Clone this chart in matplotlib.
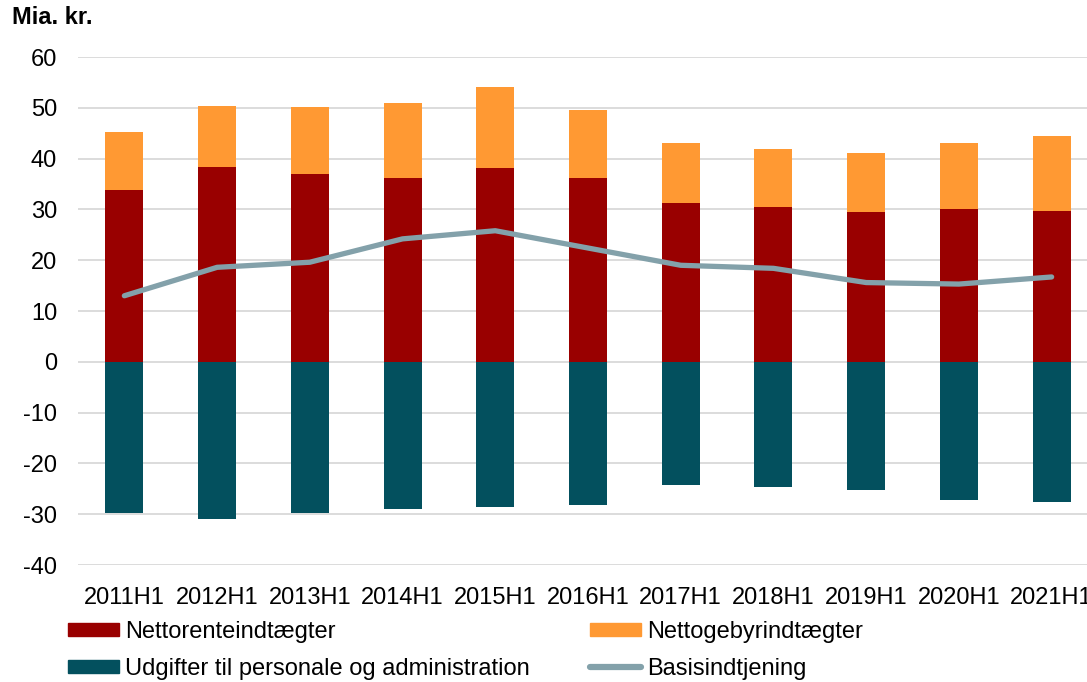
import matplotlib
matplotlib.use("Agg")
import matplotlib.pyplot as plt
from matplotlib.patches import Patch
from matplotlib.lines import Line2D
import numpy as np

plt.rcParams['font.family'] = ['Liberation Sans', 'DejaVu Sans']
plt.rcParams['axes.unicode_minus'] = False

periods = ["2011H1", "2012H1", "2013H1", "2014H1", "2015H1", "2016H1",
           "2017H1", "2018H1", "2019H1", "2020H1", "2021H1"]
netto_renter = [33.9, 38.3, 37.0, 36.1, 38.2, 36.1, 31.3, 30.4, 29.4, 30.1, 29.7]
netto_total = [45.2, 50.3, 50.2, 51.0, 54.1, 49.6, 43.0, 41.9, 41.1, 43.1, 44.4]
netto_gebyr = [t - r for t, r in zip(netto_total, netto_renter)]
udgifter = [-29.8, -31.0, -29.8, -29.0, -28.5, -28.1, -24.2, -24.6, -25.2, -27.3, -27.6]
basis = [13.0, 18.6, 19.6, 24.2, 25.8, 22.4, 19.0, 18.4, 15.6, 15.3, 16.7]

c_red = "#990000"
c_orange = "#FF9933"
c_teal = "#03505E"
c_line = "#83A1AA"
c_grid = "#D9D9D9"

W, H = 1087, 682
fig = plt.figure(figsize=(W / 100, H / 100), dpi=100)
ax = fig.add_axes([78 / W, 1 - 565 / H, 1020 / W, (565 - 57) / H])

x = np.arange(len(periods))
bw = 0.41
ax.bar(x, netto_renter, bw, color=c_red, zorder=2)
ax.bar(x, netto_gebyr, bw, bottom=netto_renter, color=c_orange, zorder=2)
ax.bar(x, udgifter, bw, color=c_teal, zorder=2)
ax.plot(x, basis, color=c_line, lw=3.8, solid_capstyle='round',
        solid_joinstyle='round', zorder=3)

ax.set_xlim(-0.5, len(periods) - 0.5)
ax.set_ylim(-40, 60)
ax.set_yticks(np.arange(-40, 61, 10))
ax.yaxis.grid(True, color=c_grid, lw=1.3, zorder=0)
ax.set_axisbelow(True)
for s in ax.spines.values():
    s.set_visible(False)
ax.tick_params(axis='both', length=0, labelsize=17, colors='black')
ax.tick_params(axis='y', pad=15)
ax.tick_params(axis='x', pad=16)
ax.set_xticks(x)
ax.set_xticklabels(periods)

fig.text(12 / W, 1 - 18 / H, "Mia. kr.", fontsize=17, fontweight='bold',
         va='center', ha='left')

handles = [Patch(color=c_red), Patch(color=c_teal),
           Patch(color=c_orange),
           Line2D([0], [0], color=c_line, lw=4.5, solid_capstyle='round')]
labels = ["Nettorenteindtægter", "Udgifter til personale og administration",
          "Nettogebyrindtægter", "Basisindtjening"]
fig.legend(handles, labels, ncol=2, loc='upper left',
           bbox_to_anchor=(68 / W, 1 - 621 / H), frameon=False, fontsize=17,
           handlelength=2.16, handleheight=0.5, handletextpad=0.25,
           labelspacing=0.62, columnspacing=2.55, borderaxespad=0, borderpad=0)

fig.savefig("out.png", dpi=100)
